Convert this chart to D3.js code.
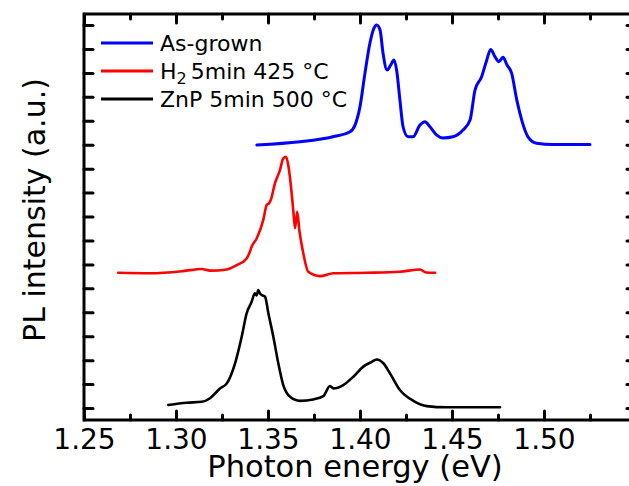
<!DOCTYPE html>
<html>
<head>
<meta charset="utf-8">
<script src="https://cdn.jsdelivr.net/npm/d3@7"></script>
<style>
  body { margin: 0; background: #fff; }
  svg { display: block; font-family: "DejaVu Sans", sans-serif; }
  .frame line, .frame path { stroke: #000; }
  .curve { fill: none; stroke-linejoin: round; stroke-linecap: round; }
</style>
</head>
<body>
<div class="container"></div>
<script>
// photon energy (eV) and PL intensity (a.u., offset traces)
var asGrownE = [1.3439, 1.3674, 1.3853, 1.3946, 1.3973, 1.4000, 1.4027, 1.4054, 1.4076, 1.4091,
  1.4109, 1.4125, 1.4147, 1.4167, 1.4185, 1.4199, 1.4217, 1.4234, 1.4261, 1.4288,
  1.4326, 1.4353, 1.4380, 1.4417, 1.4451, 1.4505, 1.4560, 1.4598, 1.4625, 1.4661,
  1.4689, 1.4710, 1.4734, 1.4755, 1.4777, 1.4799, 1.4824, 1.4852, 1.4879, 1.4913,
  1.4960, 1.5049, 1.5250];
var asGrownI = [10.99, 11.12, 11.33, 11.54, 11.82, 12.59, 13.99, 15.25, 15.87, 16.00,
  15.79, 14.83, 14.12, 14.33, 14.54, 14.12, 12.87, 11.75, 11.33, 11.33,
  11.82, 11.96, 11.75, 11.40, 11.28, 11.33, 11.61, 12.03, 13.28, 13.84,
  14.54, 14.98, 14.67, 14.47, 14.65, 14.33, 13.99, 12.87, 12.03, 11.33,
  11.06, 11.01, 11.01];

var h2E = [1.2686, 1.2859, 1.3038, 1.3140, 1.3185, 1.3276, 1.3330, 1.3384, 1.3400, 1.3411,
  1.3439, 1.3474, 1.3493, 1.3505, 1.3515, 1.3538, 1.3565, 1.3583, 1.3598, 1.3610,
  1.3623, 1.3638, 1.3647, 1.3659, 1.3670, 1.3692, 1.3719, 1.3783, 1.3855, 1.4036,
  1.4217, 1.4326, 1.4360, 1.4408];
var h2I = [5.65, 5.63, 5.72, 5.81, 5.74, 5.79, 5.97, 6.25, 6.50, 6.74,
  7.09, 7.85, 8.48, 8.55, 8.69, 9.39, 9.94, 10.43, 10.50, 10.15,
  9.39, 8.20, 7.51, 8.20, 7.44, 6.46, 5.69, 5.51, 5.63, 5.65,
  5.69, 5.79, 5.66, 5.65];

var znpE = [1.2958, 1.3058, 1.3140, 1.3185, 1.3239, 1.3276, 1.3321, 1.3357, 1.3384, 1.3411,
  1.3429, 1.3438, 1.3447, 1.3457, 1.3466, 1.3484, 1.3502, 1.3529, 1.3556, 1.3583,
  1.3620, 1.3674, 1.3746, 1.3801, 1.3837, 1.3855, 1.3909, 1.3964, 1.4018, 1.4064,
  1.4091, 1.4127, 1.4163, 1.4217, 1.4290, 1.4363, 1.4471, 1.4761];
var znpI = [0.13, 0.22, 0.26, 0.41, 0.82, 1.03, 1.87, 2.98, 3.96, 4.44,
  4.79, 4.70, 4.93, 4.78, 4.72, 4.65, 3.96, 2.98, 1.87, 0.96,
  0.47, 0.30, 0.36, 0.50, 0.92, 0.82, 0.96, 1.31, 1.73, 1.93,
  2.03, 1.87, 1.45, 0.75, 0.30, 0.08, 0.03, 0.03];

var xMajor = [1.25, 1.30, 1.35, 1.40, 1.45, 1.50];
var xMinor = [1.275, 1.325, 1.375, 1.425, 1.475, 1.525];
var yTicks = d3.range(0, 17);

var legendLabels = ['As-grown', 'H2 5min 425 °C', 'ZnP 5min 500 °C'];
var colors = ['#0000ff', '#ff0000', '#000000'];

var translate = (x, y) => (`translate(${x}, ${y})`);

const WIDTH = 629;
const HEIGHT = 486;
const LEFT = 84, RIGHT = 636, TOP = 14, BOTTOM = 420;

var xScale = d3.scaleLinear().domain([1.25, 1.55]).range([LEFT, RIGHT]);
var yScale = d3.scaleLinear().domain([-0.5, 16.46]).range([BOTTOM, TOP]);

var svg = d3.select('.container').append('svg')
    .attr('width', WIDTH)
    .attr('height', HEIGHT);

var series = [
  { e: asGrownE, i: asGrownI, w: 3 },
  { e: h2E, i: h2I, w: 2.6 },
  { e: znpE, i: znpI, w: 2.6 }
];

var line = d3.line()
    .x(d => xScale(d[0]))
    .y(d => yScale(d[1]))
    .curve(d3.curveMonotoneX);

series.forEach((s, k) => {
  svg.append('path')
      .attr('class', 'curve')
      .attr('d', line(s.e.map((e, j) => [e, s.i[j]])))
      .attr('stroke', colors[k])
      .attr('stroke-width', s.w);
});

// axes: ticks point inward
var fmt = d3.format('.2f');
var axisStyle = function (g) {
  g.select('.domain').remove();
  g.selectAll('.tick line').attr('stroke', '#000').attr('stroke-width', 3).attr('stroke-linecap', 'round');
};

var gb = svg.append('g').attr('transform', translate(0, BOTTOM))
    .call(d3.axisBottom(xScale).tickValues(xMajor).tickFormat(fmt).tickSize(-9).tickPadding(9))
    .call(axisStyle);
gb.selectAll('text').attr('font-size', 28).attr('font-family', 'DejaVu Sans').attr('fill', '#000');

svg.append('g').attr('transform', translate(0, BOTTOM))
    .call(d3.axisBottom(xScale).tickValues(xMinor).tickFormat('').tickSize(-5))
    .call(axisStyle);

svg.append('g').attr('transform', translate(0, TOP))
    .call(d3.axisTop(xScale).tickValues(xMajor).tickFormat('').tickSize(-9))
    .call(axisStyle);
svg.append('g').attr('transform', translate(0, TOP))
    .call(d3.axisTop(xScale).tickValues(xMinor).tickFormat('').tickSize(-5))
    .call(axisStyle);

svg.append('g').attr('transform', translate(LEFT, 0))
    .call(d3.axisLeft(yScale).tickValues(yTicks).tickFormat('').tickSize(-9))
    .call(axisStyle);
svg.append('g').attr('transform', translate(RIGHT, 0))
    .call(d3.axisRight(yScale).tickValues(yTicks).tickFormat('').tickSize(-9))
    .call(axisStyle);

svg.append('rect')
    .attr('x', LEFT).attr('y', TOP)
    .attr('width', RIGHT - LEFT).attr('height', BOTTOM - TOP)
    .attr('fill', 'none').attr('stroke', '#000').attr('stroke-width', 3);

// axis titles
svg.append('text')
    .attr('x', 355).attr('y', 477)
    .attr('text-anchor', 'middle')
    .attr('font-size', 30.5)
    .text('Photon energy (eV)');

svg.append('text')
    .attr('transform', translate(45, 210) + ' rotate(-90)')
    .attr('text-anchor', 'middle')
    .attr('font-size', 30)
    .text('PL intensity (a.u.)');

// legend
var legend = svg.append('g');
legendLabels.forEach((lab, k) => {
  var y = 43 + k * 28;
  legend.append('line')
      .attr('x1', 101).attr('x2', 153)
      .attr('y1', y).attr('y2', y)
      .attr('stroke', colors[k]).attr('stroke-width', 3);
  var t = legend.append('text')
      .attr('x', 160).attr('y', y + 8)
      .attr('font-size', 22);
  if (lab.indexOf('H2') === 0) {
    t.append('tspan').text('H');
    t.append('tspan').attr('font-size', 16).attr('dy', 5).text('2');
    t.append('tspan').attr('dy', -5).attr('dx', 4).text(lab.slice(3));
  } else {
    t.text(lab);
  }
});
</script>
</body>
</html>
